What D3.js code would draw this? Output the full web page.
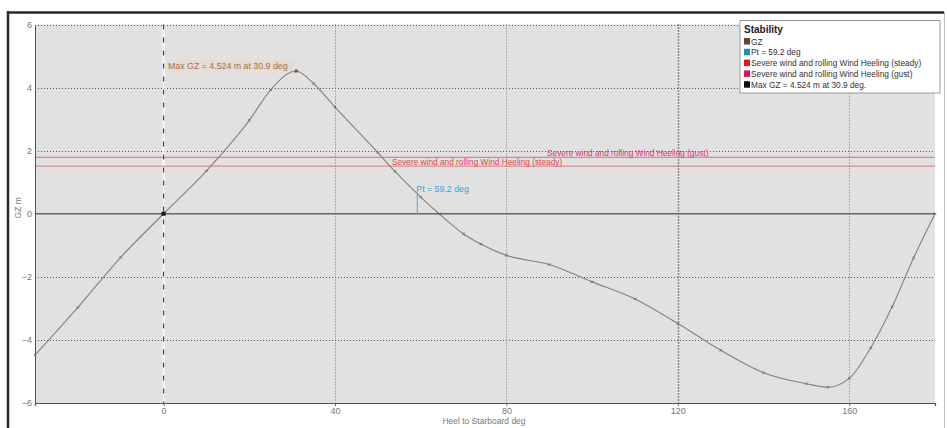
<!DOCTYPE html>
<html>
<head>
<meta charset="utf-8">
<script src="https://cdn.jsdelivr.net/npm/d3@7"></script>
<style>
  html, body { margin: 0; padding: 0; background: #fff; }
  svg { display: block; font-family: "Liberation Sans", Arial, sans-serif; }
</style>
</head>
<body>
<svg id="chart" width="947" height="428"></svg>
<script>
// Righting lever (GZ) curve, heel to starboard
const heelDeg = [-30, -20, -10, 0, 10, 20, 25, 30.9, 35, 40, 50, 54, 60, 64.3, 70, 74, 80, 90, 100, 110, 120, 130, 140, 150, 155, 160, 165, 170, 175, 180];
const gzValues = [-4.48, -2.97, -1.38, 0, 1.36, 2.96, 3.93, 4.524, 4.13, 3.38, 1.94, 1.34, 0.53, 0, -0.64, -0.96, -1.32, -1.61, -2.16, -2.70, -3.48, -4.33, -5.04, -5.39, -5.50, -5.22, -4.25, -2.95, -1.40, 0];

const xTicks = [0, 40, 80, 120, 160];
const yTicks = [-6, -4, -2, 0, 2, 4, 6];

// Heeling arm levels (m)
const heelingNames = ["Severe wind and rolling Wind Heeling (gust)", "Severe wind and rolling Wind Heeling (steady)"];
const heelingLevels = [1.79, 1.51];
const heelingColors = ["#e0307a", "#e04848"];

const maxGZ = 4.524, maxGZAngle = 30.9;
const ptAngle = 59.2;

const legendTitle = "Stability";
const legendLabels = ["GZ", "Pt = 59.2 deg", "Severe wind and rolling Wind Heeling (steady)", "Severe wind and rolling Wind Heeling (gust)", "Max GZ = 4.524 m at 30.9 deg."];
const legendColors = ["#6b4328", "#1a8fb8", "#e01818", "#e0105c", "#111111"];

const svg = d3.select("#chart");

// window-like frame
svg.append("line").attr("x1", 8).attr("x2", 944).attr("y1", 12.5).attr("y2", 12.5).attr("stroke", "#2a2a2a").attr("stroke-width", 2.5);
svg.append("line").attr("x1", 8).attr("x2", 8).attr("y1", 11).attr("y2", 428).attr("stroke", "#2a2a2a").attr("stroke-width", 2.5);
svg.append("line").attr("x1", 944.5).attr("x2", 944.5).attr("y1", 12).attr("y2", 428).attr("stroke", "#bbb").attr("stroke-width", 1);

const x = d3.scaleLinear().domain([-30, 180]).range([35, 935]);
const y = d3.scaleLinear().domain([-6, 6]).range([403, 24.5]);

// plot background
svg.append("rect").attr("x", x(-30)).attr("y", y(6)).attr("width", x(180) - x(-30)).attr("height", y(-6) - y(6)).attr("fill", "#e1e1e1");

// horizontal grid
const g = svg.append("g");
g.selectAll("line.hg").data(yTicks.filter(d => d !== 0 && d !== -6)).enter().append("line")
  .attr("x1", x(-30)).attr("x2", x(180))
  .attr("y1", d => Math.round(y(d)) + 0.5).attr("y2", d => Math.round(y(d)) + 0.5)
  .attr("stroke", "#555").attr("stroke-width", 1).attr("stroke-dasharray", "1,2");

// vertical grid
g.selectAll("line.vg").data(xTicks.filter(d => d !== 0)).enter().append("line")
  .attr("x1", d => Math.round(x(d)) + 0.5).attr("x2", d => Math.round(x(d)) + 0.5)
  .attr("y1", y(6)).attr("y2", y(-6))
  .attr("stroke", d => d === 120 ? "#333" : "#777")
  .attr("stroke-width", d => d === 120 ? 1.5 : 1)
  .attr("stroke-dasharray", "1,2");

// zero-heel line: white with dark dashes
g.append("line").attr("x1", x(0)).attr("x2", x(0)).attr("y1", y(6)).attr("y2", y(-6)).attr("stroke", "#fafafa").attr("stroke-width", 2);
g.append("line").attr("x1", x(0)).attr("x2", x(0)).attr("y1", y(6)).attr("y2", y(-6)).attr("stroke", "#444").attr("stroke-width", 1.2).attr("stroke-dasharray", "5,8");

// zero GZ line
g.append("line").attr("x1", x(-30)).attr("x2", x(180)).attr("y1", y(0)).attr("y2", y(0)).attr("stroke", "#666").attr("stroke-width", 1.6);

// axes
const yAxis = d3.axisLeft(y).tickValues(yTicks).tickSize(0).tickPadding(3);
const yg = svg.append("g").attr("transform", `translate(${x(-30)},0)`).call(yAxis);
yg.select(".domain").attr("stroke", "#555");
yg.selectAll("text").attr("fill", "#777").attr("font-size", 9).attr("font-family", "Liberation Sans, Arial, sans-serif");

const xAxis = d3.axisBottom(x).tickValues(xTicks).tickSize(3).tickPadding(2);
const xg = svg.append("g").attr("transform", `translate(0,${y(-6)})`).call(xAxis);
xg.select(".domain").attr("stroke", "#555").attr("stroke-width", 1.2);
xg.selectAll(".tick line").attr("stroke", "#666");
xg.selectAll("text").attr("fill", "#777").attr("font-size", 9).attr("font-family", "Liberation Sans, Arial, sans-serif");

svg.append("text").attr("x", 484).attr("y", 424).attr("text-anchor", "middle")
  .attr("font-size", 8.5).attr("fill", "#777").text("Heel to Starboard  deg");
svg.append("text").attr("transform", `translate(21,${y(0) - 6}) rotate(-90)`).attr("text-anchor", "middle")
  .attr("font-size", 8.5).attr("fill", "#777").text("GZ  m");

// heeling arm lines and labels
g.selectAll("line.heel").data(heelingLevels).enter().append("line")
  .attr("x1", x(-30)).attr("x2", x(180))
  .attr("y1", d => y(d)).attr("y2", d => y(d))
  .attr("stroke", (d, i) => heelingColors[i]).attr("stroke-opacity", 0.7).attr("stroke-width", 1);
const heelLabelX = [547, 392];
g.selectAll("text.heel").data(heelingLevels).enter().append("text")
  .attr("x", (d, i) => heelLabelX[i]).attr("y", d => y(d) - 1.5)
  .attr("font-size", 8.3).attr("fill", (d, i) => heelingColors[i])
  .text((d, i) => heelingNames[i]);

// GZ curve
const pts = heelDeg.map((d, i) => [d, gzValues[i]]);
const line = d3.line().x(d => x(d[0])).y(d => y(d[1])).curve(d3.curveMonotoneX);
svg.append("path").datum(pts).attr("d", line).attr("fill", "none").attr("stroke", "#8f7f74").attr("stroke-width", 1.1);

// point markers on the curve
svg.selectAll("path.mk").data(pts.filter(p => p[0] !== 0 && p[0] !== maxGZAngle)).enter().append("path")
  .attr("d", d => `M${x(d[0]) - 1.2},${y(d[1]) - 1.2}L${x(d[0]) + 1.2},${y(d[1]) + 1.2}M${x(d[0]) - 1.2},${y(d[1]) + 1.2}L${x(d[0]) + 1.2},${y(d[1]) - 1.2}`)
  .attr("stroke", "#666").attr("stroke-width", 0.9);
svg.append("rect").attr("x", x(0) - 2).attr("y", y(0) - 2).attr("width", 4).attr("height", 4).attr("fill", "#111");
svg.append("rect").attr("x", x(maxGZAngle) - 1.5).attr("y", y(maxGZ) - 1.5).attr("width", 3).attr("height", 3).attr("fill", "#6a5040");

// Max GZ annotation
const maxText = `Max GZ = ${maxGZ} m at ${maxGZAngle} deg`;
svg.append("rect").attr("x", 167).attr("y", 60).attr("width", 128).attr("height", 11).attr("fill", "#ead9cc").attr("opacity", 0.6);
svg.append("text").attr("x", 168).attr("y", 69).attr("font-size", 8.8).attr("fill", "#a86f45").text(maxText);

// Pt annotation
svg.append("line").attr("x1", x(ptAngle)).attr("x2", x(ptAngle)).attr("y1", y(0)).attr("y2", 193)
  .attr("stroke", "#4aa8d8").attr("stroke-width", 1);
svg.append("text").attr("x", x(ptAngle) - 1).attr("y", 192).attr("font-size", 8.8).attr("fill", "#3aa2d6").text(`Pt = ${ptAngle} deg`);

// legend
const lg = svg.append("g").attr("transform", "translate(740,20.5)");
lg.append("rect").attr("width", 200).attr("height", 72.5).attr("fill", "#fff").attr("stroke", "#999").attr("stroke-width", 1);
lg.append("text").attr("x", 4).attr("y", 12).attr("font-size", 10).attr("font-weight", "bold").attr("fill", "#222").text(legendTitle);
const items = lg.selectAll("g.item").data(legendLabels).enter().append("g")
  .attr("transform", (d, i) => `translate(4,${21 + i * 10.8})`);
items.append("rect").attr("x", 0).attr("y", -3.5).attr("width", 6).attr("height", 6.5).attr("fill", (d, i) => legendColors[i]);
items.append("text").attr("x", 7).attr("y", 3).attr("font-size", 8.3).attr("fill", "#333").text(d => d);
</script>
</body>
</html>
